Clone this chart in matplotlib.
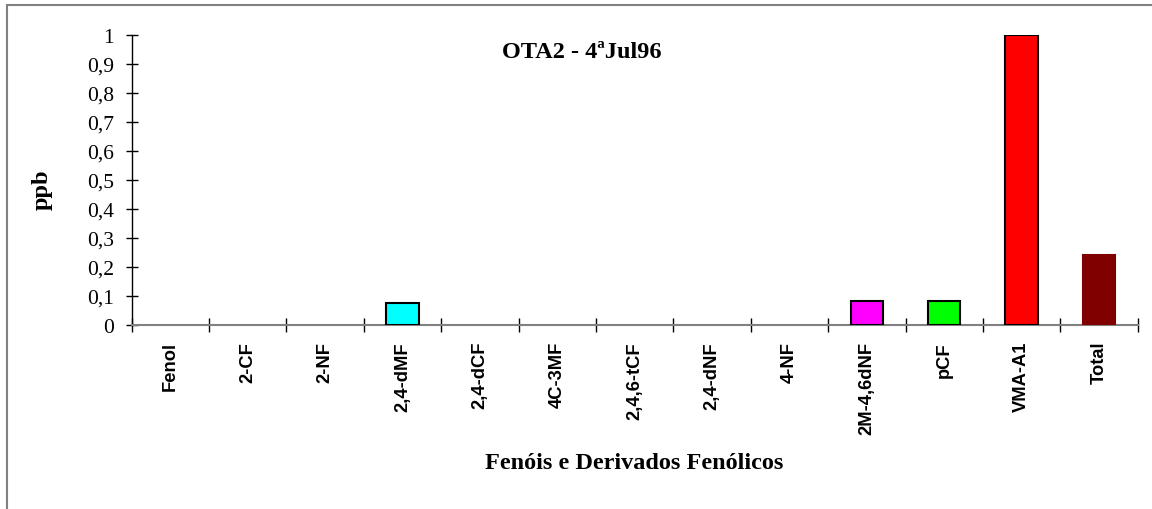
import matplotlib.pyplot as plt
import numpy as np
from matplotlib.patches import Rectangle

# Data
compostos = ["Fenol", "2-CF", "2-NF", "2,4-dMF", "2,4-dCF", "4C-3MF", "2,4,6-tCF",
             "2,4-dNF", "4-NF", "2M-4,6dNF", "pCF", "VMA-A1", "Total"]
ppb = [0, 0, 0, 0.076, 0, 0, 0, 0, 0, 0.082, 0.082, 1.0, 0.242]
cores = ["#00ffff", "#00ffff", "#00ffff", "#00ffff", "#00ffff", "#00ffff", "#00ffff",
         "#00ffff", "#00ffff", "#ff00ff", "#00ff00", "#ff0000", "#800000"]
y_ticks = [0, 0.1, 0.2, 0.3, 0.4, 0.5, 0.6, 0.7, 0.8, 0.9, 1.0]
y_labels = ["0", "0,1", "0,2", "0,3", "0,4", "0,5", "0,6", "0,7", "0,8", "0,9", "1"]

W, H = 1152, 510
fig = plt.figure(figsize=(W / 100, H / 100), dpi=100)
ax = fig.add_axes([131.7 / W, 1 - 326 / H, (1137.7 - 131.7) / W, (326 - 35.7) / H])

x = np.arange(len(compostos))
bars = ax.bar(x, ppb, width=0.42, color=cores, edgecolor="black", linewidth=1.5, zorder=3)
for b, v in zip(bars, ppb):
    if v == 0:
        b.set_visible(False)
# Total bar has no black outline
bars[-1].set_edgecolor("#800000")

ax.set_xlim(-0.5, len(compostos) - 0.5)
ax.set_ylim(0, 1)

# y axis
ax.set_yticks(y_ticks)
ax.set_yticklabels(y_labels, fontfamily="Liberation Serif", fontsize=15.5)
ax.tick_params(axis="y", direction="inout", length=8.6, width=1, pad=8.5, colors="black")

# category labels, ticks at boundaries
ax.set_xticks(x)
ax.set_xticklabels(compostos, rotation=90, fontfamily="Liberation Sans",
                   fontweight="bold", fontsize=13.2, va="top", ha="center")
ax.tick_params(axis="x", which="major", length=0, pad=11.5)
ax.set_xticks(np.arange(len(compostos) + 1) - 0.5, minor=True)
ax.tick_params(axis="x", which="minor", direction="inout", length=9.4, width=1, color="black")

for s in ["top", "right"]:
    ax.spines[s].set_visible(False)
ax.spines["bottom"].set_color("#808080")
ax.spines["bottom"].set_linewidth(1.5)
ax.spines["left"].set_color("black")
ax.spines["left"].set_linewidth(1)

# Title and axis titles
fig.text(582 / W, 1 - 52 / H, "OTA2 - 4ªJul96", fontfamily="Liberation Serif",
         fontweight="bold", fontsize=17.5, ha="center", va="center")
fig.text(634 / W, 1 - 464 / H, "Fenóis e Derivados Fenólicos", fontfamily="Liberation Serif",
         fontweight="bold", fontsize=17.5, ha="center", va="center")
fig.text(42 / W, 1 - 190 / H, "ppb", fontfamily="Liberation Serif", fontweight="bold",
         fontsize=17.5, rotation=90, ha="center", va="center")

# Chart area frame
fig.patches.append(Rectangle((7 / W, -0.1), 1.1, 1.1 - 6 / H, transform=fig.transFigure,
                             fill=False, edgecolor="#808080", linewidth=1.5))

plt.savefig("out.png", dpi=100)
